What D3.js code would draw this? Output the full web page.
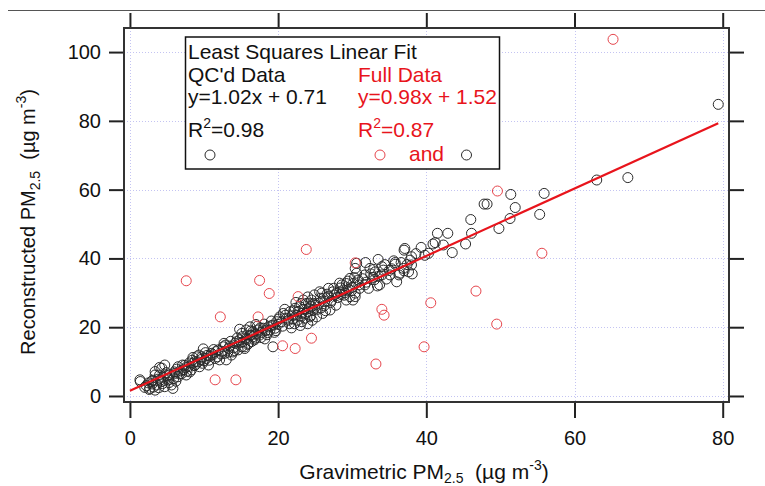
<!DOCTYPE html>
<html>
<head>
<meta charset="utf-8">
<script src="https://cdn.jsdelivr.net/npm/d3@7/dist/d3.min.js"></script>
<style>
  html, body { margin: 0; padding: 0; background: #fff; }
  svg { display: block; font-family: "Liberation Sans", Arial, sans-serif; }
</style>
</head>
<body>
<svg id="chart" width="765" height="486"></svg>
<script>
// ---------- DATA ----------
const xTicks = [0, 20, 40, 60, 80];
const yTicks = [0, 20, 40, 60, 80, 100];

// QC'd data (black circles): [gravimetric, reconstructed]
const qcData = [
  [1.4,4.2],[1.35,4.7],[2.7,2.2],[2.9,4.2],[3.4,1.7],[3.4,6.1],[3.4,7.1],[3.6,3.2],[4.0,6.1],[4.0,8.3],
  [4.3,4.2],[4.3,8.1],[4.7,2.7],[4.7,9.0],[5.2,4.7],[5.6,3.2],[5.8,2.2],[6.1,6.6],[6.5,5.6],[6.5,8.5],
  [7.2,7.6],[7.6,6.1],[7.9,8.5],[8.3,7.6],[8.5,9.5],[8.5,11.2],[9.0,11.4],[9.4,8.5],[9.7,11.4],[9.9,13.7],
  [10.3,10.9],[10.6,9.0],[11.0,12.4],[11.5,10.9],[11.9,13.4],[12.1,10.5],[12.6,14.3],[12.8,12.4],[13.0,10.5],[13.7,11.9],
  [14.2,15.3],[14.6,13.4],[14.8,16.3],[14.8,19.4],[15.1,18.2],[15.5,14.3],[15.7,19.2],[16.2,20.1],[16.4,17.7],
  [2.2,3.0],[3.0,3.5],[3.8,4.9],[4.5,5.5],[5.0,5.9],[5.4,6.2],[6.0,7.0],[6.8,7.3],[7.0,6.5],[7.4,8.9],
  [8.0,9.6],[8.8,10.0],[9.2,9.9],[10.0,10.2],[10.8,11.6],[11.2,12.0],[12.4,13.0],[13.3,13.8],[13.5,14.5],[14.0,14.0],
  [14.4,15.8],[15.0,15.6],[15.8,16.4],[16.6,17.2],[13.9,12.8],[12.9,14.8],[11.6,12.9],[10.4,11.8],[9.6,10.6],[8.7,8.8],
  [7.7,7.2],[6.3,7.8],[5.2,5.2],[4.1,4.6],[3.2,2.6],[2.5,3.8],
  [15.3,15.8],[15.7,16.8],[16.0,15.3],[15.1,14.3],[15.5,13.8],[16.2,17.7],[16.6,18.7],[16.9,16.8],[17.3,19.2],[17.5,17.7],
  [18.0,19.7],[18.7,20.1],[18.9,19.2],[19.3,20.6],[19.6,19.7],[19.8,21.6],[20.2,23.0],[20.5,21.6],[20.7,24.0],[21.1,22.6],
  [19.3,14.3],[21.6,24.5],[22.3,25.5],[22.5,23.5],[22.9,26.0],[23.2,24.0],[23.2,21.6],[23.6,22.6],[23.4,27.9],[23.8,26.9],
  [24.3,23.0],[24.5,27.9],[24.5,26.0],[24.9,29.4],[25.2,23.0],[25.6,30.3],[26.1,28.4],[26.8,28.9],[26.8,31.3],[27.0,25.0],
  [27.4,30.3],[28.3,32.8],[28.3,30.3],[28.6,32.3],[28.8,30.8],[29.2,32.7],[29.2,27.9],[29.7,28.9],[29.7,34.2],[30.1,27.9],
  [30.1,32.7],[30.4,28.9],[30.4,29.9],[30.4,37.1],[30.6,38.6],[30.6,35.7],[30.8,33.7],[31.0,31.3],[31.7,32.3],[31.7,35.2],
  [31.8,38.8],[32.2,31.3],[32.4,37.1],[33.1,36.1],[33.4,32.0],[33.5,39.7],[33.7,32.3],[34.0,37.6],[34.0,35.2],[34.2,36.6],
  [17.0,18.0],[17.8,18.5],[18.3,19.0],[19.0,20.4],[20.0,20.8],[21.4,22.0],[21.9,23.3],[22.0,22.4],[22.7,24.6],[23.0,23.2],
  [23.5,25.2],[24.0,24.5],[24.2,25.4],[24.7,25.0],[25.0,26.4],[25.5,27.0],[25.8,25.6],[26.3,27.5],[27.2,27.8],[27.6,29.4],
  [28.0,28.6],[28.5,29.5],[29.0,30.0],[29.5,31.0],[30.0,31.6],[26.0,24.0],[24.0,21.0],[23.0,20.5],[22.2,21.0],[24.6,22.0],
  [19.5,18.5],[18.5,17.8],[17.6,19.8],[16.4,15.8],
  [35.8,38.3],[35.8,38.8],[36.0,33.2],[36.3,35.2],[36.4,35.7],[36.9,37.1],[37.0,42.4],[37.0,36.4],[37.1,42.9],[37.6,36.1],
  [37.8,39.5],[38.0,40.5],[38.1,35.5],[38.0,38.1],[39.3,43.2],[40.3,41.5],[40.9,44.2],[41.2,44.6],[41.5,47.3],[42.3,43.9],
  [42.9,47.3],[43.5,41.7],[45.3,44.2],[46.0,51.3],[46.1,47.3],[47.8,55.8],[48.2,55.8],[49.8,48.7],[51.3,51.6],[51.4,58.6],
  [52.0,54.8],[55.3,52.8],[55.9,58.9],[63.0,62.8],[67.2,63.5],[79.4,84.8],
  [35.0,36.5],[34.6,34.0],[35.3,37.0],[32.8,34.5],[33.0,33.8],
  [2.0,2.5],[2.6,1.9],[3.1,4.6],[3.9,2.4],[4.4,3.6],[4.9,6.8],[5.3,3.9],[5.9,5.0],[6.2,4.3],[6.7,6.4],
  [7.1,9.0],[7.5,8.2],[8.1,7.0],[8.4,10.4],[8.9,9.2],[9.3,11.9],[9.8,9.5],[10.2,12.6],[10.7,10.4],[11.3,13.5],
  [11.8,11.4],[12.3,12.2],[12.7,15.3],[13.2,12.7],[13.6,15.9],[14.1,13.2],[14.5,16.9],[15.2,17.3],[15.9,15.0],[16.3,18.9],
  [16.8,16.3],[17.2,20.3],[17.7,17.0],[18.1,20.9],[18.6,18.4],[19.1,21.8],[19.7,19.0],[20.1,22.4],[20.6,20.3],[21.0,23.5],
  [21.5,21.0],[22.1,24.8],[22.6,22.0],[23.1,26.9],[23.7,24.0],[24.1,27.0],[24.4,23.4],[24.8,26.9],[25.3,25.2],[25.7,28.4],
  [26.2,26.2],[26.6,29.6],[27.1,27.2],[27.5,31.3],[27.9,29.9],[28.4,31.4],[28.9,29.3],[29.4,33.4],[29.9,30.6],[30.3,34.4],
  [30.9,32.3],[31.4,34.1],[31.9,33.1],[32.5,35.5],[32.9,36.8],[33.6,34.8],[34.4,38.2],[35.1,35.2],[35.6,39.3],[36.6,38.8],
  [37.4,38.2],[38.6,41.4],[39.8,40.9],[20.9,25.2],[22.4,27.2],[25.9,29.9],[24.0,28.8],[26.4,24.8],[27.8,26.4],[18.2,16.6],
  [17.0,20.8],[21.8,19.8]
];

// Full data points excluded by QC (red circles)
const fullOnlyData = [
  [7.6,33.5],[11.5,4.7],[14.3,4.7],[12.2,23.0],[17.3,23.0],[17.5,33.6],[18.8,29.8],[20.6,14.6],[22.3,13.8],[22.7,28.9],
  [23.8,42.6],[24.5,16.8],[30.4,38.7],[33.2,9.3],[34.0,25.2],[34.3,23.5],[39.7,14.3],[40.6,27.1],[46.7,30.5],[49.5,20.9],
  [49.6,59.6],[55.6,41.5],[65.2,103.7]
];

// Full-data least squares fit
const fitSlope = 0.98;
const fitIntercept = 1.52;
const fitXRange = [0, 79.4];

// ---------- LAYOUT ----------
const svg = d3.select("#chart");
const frame = { left: 124, top: 28, right: 729, bottom: 402 };
const x = d3.scaleLinear().domain([-0.8, 80.85]).range([frame.left, frame.right]);
const y = d3.scaleLinear().domain([-1.75, 107]).range([frame.bottom, frame.top]);

const black = "#2a2a2a";
const red = "#e8141c";
const redMarker = "#e6454c";
const gridColor = "#c4c4f2";

// top rule of the figure
svg.append("line").attr("x1", 8).attr("x2", 765).attr("y1", 10.5).attr("y2", 10.5)
  .attr("stroke", "#555").attr("stroke-width", 1);

// grid
const grid = svg.append("g").attr("stroke", gridColor).attr("stroke-width", 1).attr("stroke-dasharray", "1,2");
grid.selectAll(".gx").data(xTicks).join("line")
  .attr("x1", d => Math.round(x(d)) + 0.5).attr("x2", d => Math.round(x(d)) + 0.5)
  .attr("y1", frame.top).attr("y2", frame.bottom);
grid.selectAll(".gy").data(yTicks).join("line")
  .attr("y1", d => Math.round(y(d)) + 0.5).attr("y2", d => Math.round(y(d)) + 0.5)
  .attr("x1", frame.left).attr("x2", frame.right);

// axes
const fontSize = 20;
function styleAxis(g) {
  g.select(".domain").remove();
  g.selectAll(".tick line").attr("stroke", "#222").attr("stroke-width", 2);
  g.selectAll(".tick text").attr("fill", "#111").attr("font-size", fontSize)
    .attr("font-family", "'Liberation Sans', Arial, sans-serif");
}
svg.append("g").attr("transform", `translate(${frame.left},0)`)
  .call(d3.axisLeft(y).tickValues(yTicks).tickSize(15).tickPadding(8)).call(styleAxis);
svg.append("g").attr("transform", `translate(${frame.right},0)`)
  .call(d3.axisRight(y).tickValues(yTicks).tickSize(15).tickFormat("")).call(styleAxis);
svg.append("g").attr("transform", `translate(0,${frame.top})`)
  .call(d3.axisTop(x).tickValues(xTicks).tickSize(15).tickFormat("")).call(styleAxis);
svg.append("g").attr("transform", `translate(0,${frame.bottom})`)
  .call(d3.axisBottom(x).tickValues(xTicks).tickSize(16).tickPadding(13)).call(styleAxis);

// frame
svg.append("rect").attr("x", frame.left).attr("y", frame.top)
  .attr("width", frame.right - frame.left).attr("height", frame.bottom - frame.top)
  .attr("fill", "none").attr("stroke", "#333").attr("stroke-width", 2);

// points
const r = 5;
svg.append("g").selectAll("circle").data(qcData).join("circle")
  .attr("cx", d => x(d[0])).attr("cy", d => y(d[1])).attr("r", r)
  .attr("fill", "none").attr("stroke", black).attr("stroke-width", 1);
svg.append("g").selectAll("circle").data(fullOnlyData).join("circle")
  .attr("cx", d => x(d[0])).attr("cy", d => y(d[1])).attr("r", r)
  .attr("fill", "none").attr("stroke", redMarker).attr("stroke-width", 1);

// fit line
svg.append("line")
  .attr("x1", x(fitXRange[0])).attr("y1", y(fitSlope * fitXRange[0] + fitIntercept))
  .attr("x2", x(fitXRange[1])).attr("y2", y(fitSlope * fitXRange[1] + fitIntercept))
  .attr("stroke", red).attr("stroke-width", 2.2);

// legend box
const lg = svg.append("g").attr("font-size", 21).attr("fill", "#111");
lg.append("rect").attr("x", 185.5).attr("y", 37).attr("width", 314).attr("height", 132)
  .attr("fill", "#fff").attr("stroke", "#111").attr("stroke-width", 1.5);
lg.append("text").attr("x", 188).attr("y", 59).text("Least Squares Linear Fit");
lg.append("text").attr("x", 188).attr("y", 82).text("QC'd Data");
lg.append("text").attr("x", 188).attr("y", 104).text("y=1.02x + 0.71");
const r2a = lg.append("text").attr("x", 188).attr("y", 137);
r2a.append("tspan").text("R");
r2a.append("tspan").attr("dy", -9).attr("font-size", 14).text("2");
r2a.append("tspan").attr("dy", 9).text("=0.98");
lg.append("text").attr("x", 358).attr("y", 82).attr("fill", red).text("Full Data");
lg.append("text").attr("x", 358).attr("y", 104).attr("fill", red).text("y=0.98x + 1.52");
const r2b = lg.append("text").attr("x", 358).attr("y", 137).attr("fill", red);
r2b.append("tspan").text("R");
r2b.append("tspan").attr("dy", -9).attr("font-size", 14).text("2");
r2b.append("tspan").attr("dy", 9).text("=0.87");
lg.append("text").attr("x", 409).attr("y", 161).attr("fill", red).text("and");
lg.append("circle").attr("cx", 210).attr("cy", 155).attr("r", r).attr("fill", "none").attr("stroke", black);
lg.append("circle").attr("cx", 380).attr("cy", 155).attr("r", r).attr("fill", "none").attr("stroke", redMarker);
lg.append("circle").attr("cx", 466.5).attr("cy", 155).attr("r", r).attr("fill", "none").attr("stroke", black);

// axis titles
function title(sel, sub) {
  sel.append("tspan").text("PM");
  sel.append("tspan").attr("dy", sub).attr("font-size", 14).text("2.5");
  sel.append("tspan").attr("dy", -sub).text("\u00a0\u00a0(\u00b5g m");
  sel.append("tspan").attr("dy", -9).attr("font-size", 14).text("-3");
  sel.append("tspan").attr("dy", 9).text(")");
}
const xt = svg.append("text").attr("x", 424).attr("y", 479).attr("text-anchor", "middle")
  .attr("font-size", 21).attr("fill", "#111");
xt.append("tspan").text("Gravimetric ");
title(xt, 4);
const yt = svg.append("text").attr("transform", "translate(35,222) rotate(-90)")
  .attr("text-anchor", "middle").attr("font-size", 20).attr("fill", "#111");
yt.append("tspan").text("Reconstructed ");
title(yt, 5);
</script>
</body>
</html>
